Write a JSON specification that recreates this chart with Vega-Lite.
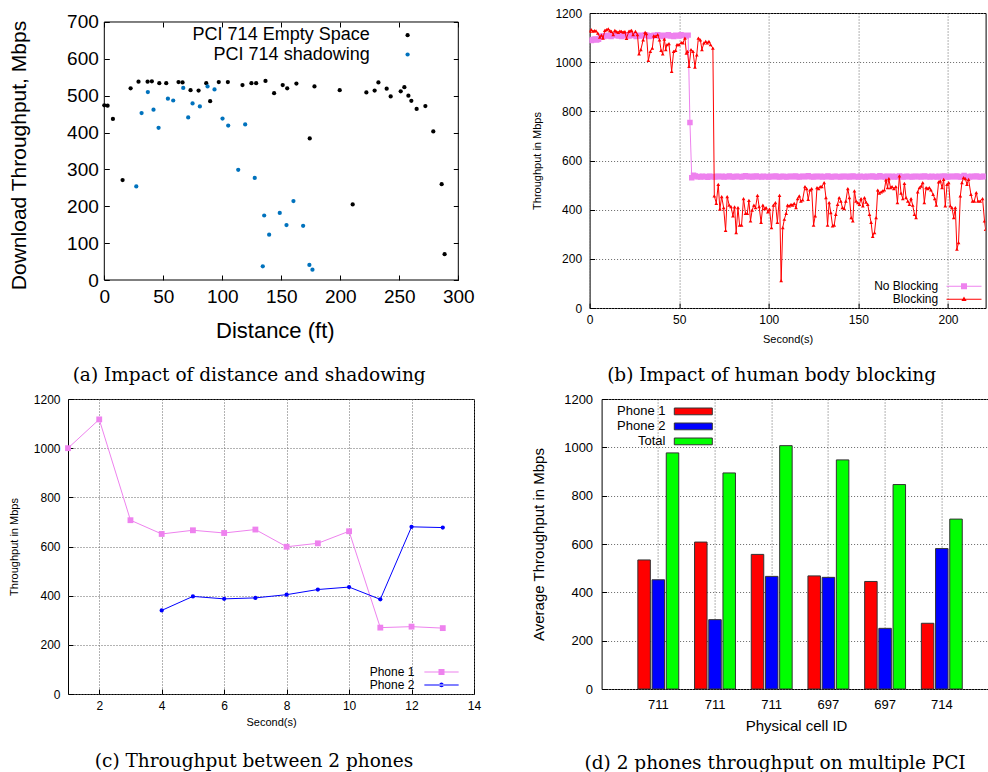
{
"$schema": "https://vega.github.io/schema/vega-lite/v6.json",
"background": "white",
"padding": {"left": 7, "top": 6, "right": 0, "bottom": 0},
"config": {
  "font": "Liberation Sans",
  "view": {"stroke": "black", "strokeWidth": 1},
  "axis": {"domain": false, "labelColor": "black", "titleColor": "black", "tickColor": "black", "titleFontWeight": "normal", "labelFont": "Liberation Sans", "titleFont": "Liberation Sans", "grid": false, "labelOverlap": false, "labelFlush": false, "gridDash": [1, 2], "gridColor": "#666", "gridWidth": 1},
  "legend": {"labelFont": "Liberation Sans", "labelColor": "black", "padding": 0, "rowPadding": 0, "labelLimit": 400, "symbolOpacity": 1}
},
"datasets": {
"a": [
{"d":0,"t":474,"s":"PCI 714 Empty Space"},{"d":2.8,"t":473,"s":"PCI 714 Empty Space"},{"d":7.3,"t":437,"s":"PCI 714 Empty Space"},{"d":15.5,"t":271,"s":"PCI 714 Empty Space"},{"d":22.3,"t":520,"s":"PCI 714 Empty Space"},{"d":29,"t":538,"s":"PCI 714 Empty Space"},{"d":36.7,"t":538,"s":"PCI 714 Empty Space"},{"d":40.3,"t":539,"s":"PCI 714 Empty Space"},{"d":46.6,"t":534,"s":"PCI 714 Empty Space"},{"d":52.5,"t":534,"s":"PCI 714 Empty Space"},{"d":62.9,"t":537,"s":"PCI 714 Empty Space"},{"d":66.3,"t":536,"s":"PCI 714 Empty Space"},{"d":73.1,"t":515,"s":"PCI 714 Empty Space"},{"d":79.9,"t":514,"s":"PCI 714 Empty Space"},{"d":86.4,"t":534,"s":"PCI 714 Empty Space"},{"d":89.7,"t":485,"s":"PCI 714 Empty Space"},{"d":97,"t":537,"s":"PCI 714 Empty Space"},{"d":104.7,"t":537,"s":"PCI 714 Empty Space"},{"d":117.1,"t":529,"s":"PCI 714 Empty Space"},{"d":124.7,"t":534,"s":"PCI 714 Empty Space"},{"d":128.7,"t":534,"s":"PCI 714 Empty Space"},{"d":136.6,"t":540,"s":"PCI 714 Empty Space"},{"d":143.9,"t":507,"s":"PCI 714 Empty Space"},{"d":151.2,"t":529,"s":"PCI 714 Empty Space"},{"d":155,"t":520,"s":"PCI 714 Empty Space"},{"d":162.8,"t":533,"s":"PCI 714 Empty Space"},{"d":174.1,"t":384,"s":"PCI 714 Empty Space"},{"d":178.1,"t":525,"s":"PCI 714 Empty Space"},{"d":199.5,"t":515,"s":"PCI 714 Empty Space"},{"d":210.5,"t":205,"s":"PCI 714 Empty Space"},{"d":222.1,"t":509,"s":"PCI 714 Empty Space"},{"d":229.1,"t":514,"s":"PCI 714 Empty Space"},{"d":232.3,"t":536,"s":"PCI 714 Empty Space"},{"d":239.3,"t":519,"s":"PCI 714 Empty Space"},{"d":242.7,"t":498,"s":"PCI 714 Empty Space"},{"d":251.2,"t":512,"s":"PCI 714 Empty Space"},{"d":254.3,"t":523,"s":"PCI 714 Empty Space"},{"d":257.7,"t":500,"s":"PCI 714 Empty Space"},{"d":260.2,"t":486,"s":"PCI 714 Empty Space"},{"d":264.7,"t":464,"s":"PCI 714 Empty Space"},{"d":272.1,"t":472,"s":"PCI 714 Empty Space"},{"d":278.8,"t":403,"s":"PCI 714 Empty Space"},{"d":285.9,"t":260,"s":"PCI 714 Empty Space"},{"d":288.4,"t":70,"s":"PCI 714 Empty Space"},
{"d":27.1,"t":254,"s":"PCI 714 shadowing"},{"d":31.6,"t":453,"s":"PCI 714 shadowing"},{"d":36.9,"t":510,"s":"PCI 714 shadowing"},{"d":41.7,"t":462,"s":"PCI 714 shadowing"},{"d":46,"t":413,"s":"PCI 714 shadowing"},{"d":53.9,"t":492,"s":"PCI 714 shadowing"},{"d":58.4,"t":487,"s":"PCI 714 shadowing"},{"d":66.9,"t":521,"s":"PCI 714 shadowing"},{"d":71.1,"t":441,"s":"PCI 714 shadowing"},{"d":74.8,"t":479,"s":"PCI 714 shadowing"},{"d":81,"t":471,"s":"PCI 714 shadowing"},{"d":87.5,"t":525,"s":"PCI 714 shadowing"},{"d":93.4,"t":517,"s":"PCI 714 shadowing"},{"d":100.2,"t":438,"s":"PCI 714 shadowing"},{"d":105,"t":419,"s":"PCI 714 shadowing"},{"d":113.5,"t":299,"s":"PCI 714 shadowing"},{"d":119.4,"t":422,"s":"PCI 714 shadowing"},{"d":127.5,"t":277,"s":"PCI 714 shadowing"},{"d":134.3,"t":37,"s":"PCI 714 shadowing"},{"d":135.5,"t":175,"s":"PCI 714 shadowing"},{"d":139.7,"t":123,"s":"PCI 714 shadowing"},{"d":148.7,"t":182,"s":"PCI 714 shadowing"},{"d":154.4,"t":149,"s":"PCI 714 shadowing"},{"d":160.3,"t":214,"s":"PCI 714 shadowing"},{"d":168.5,"t":147,"s":"PCI 714 shadowing"},{"d":173.8,"t":41,"s":"PCI 714 shadowing"},{"d":176.4,"t":28,"s":"PCI 714 shadowing"}
],
"b": [
{"t":0,"v":1090,"s":"N"},{"t":1,"v":1088,"s":"N"},{"t":2,"v":1092,"s":"N"},{"t":3,"v":1094,"s":"N"},{"t":4,"v":1090,"s":"N"},{"t":5,"v":1093,"s":"N"},{"t":6,"v":1102,"s":"N"},{"t":7,"v":1106,"s":"N"},{"t":8,"v":1104,"s":"N"},{"t":9,"v":1108,"s":"N"},{"t":10,"v":1110,"s":"N"},{"t":11,"v":1106,"s":"N"},{"t":12,"v":1104,"s":"N"},{"t":13,"v":1108,"s":"N"},{"t":14,"v":1112,"s":"N"},{"t":15,"v":1110,"s":"N"},{"t":16,"v":1106,"s":"N"},{"t":17,"v":1108,"s":"N"},{"t":18,"v":1104,"s":"N"},{"t":19,"v":1110,"s":"N"},{"t":20,"v":1112,"s":"N"},{"t":21,"v":1108,"s":"N"},{"t":22,"v":1106,"s":"N"},{"t":23,"v":1110,"s":"N"},{"t":24,"v":1108,"s":"N"},{"t":25,"v":1112,"s":"N"},{"t":26,"v":1104,"s":"N"},{"t":27,"v":1108,"s":"N"},{"t":28,"v":1110,"s":"N"},{"t":29,"v":1106,"s":"N"},{"t":30,"v":1108,"s":"N"},{"t":31,"v":1112,"s":"N"},{"t":32,"v":1110,"s":"N"},{"t":33,"v":1104,"s":"N"},{"t":34,"v":1108,"s":"N"},{"t":35,"v":1106,"s":"N"},{"t":36,"v":1110,"s":"N"},{"t":37,"v":1108,"s":"N"},{"t":38,"v":1112,"s":"N"},{"t":39,"v":1106,"s":"N"},{"t":40,"v":1110,"s":"N"},{"t":41,"v":1104,"s":"N"},{"t":42,"v":1108,"s":"N"},{"t":43,"v":1110,"s":"N"},{"t":44,"v":1112,"s":"N"},{"t":45,"v":1106,"s":"N"},{"t":46,"v":1108,"s":"N"},{"t":47,"v":1104,"s":"N"},{"t":48,"v":1110,"s":"N"},{"t":49,"v":1108,"s":"N"},{"t":50,"v":1106,"s":"N"},{"t":51,"v":1112,"s":"N"},{"t":52,"v":1110,"s":"N"},{"t":53,"v":1108,"s":"N"},{"t":54,"v":1106,"s":"N"},{"t":55,"v":1110,"s":"N"},{"t":56,"v":755,"s":"N"},
{"t":57,"v":530,"s":"N"},{"t":58,"v":540,"s":"N"},{"t":59,"v":537,"s":"N"},{"t":60,"v":534,"s":"N"},{"t":61,"v":535,"s":"N"},{"t":62,"v":533,"s":"N"},{"t":63,"v":536,"s":"N"},{"t":64,"v":534,"s":"N"},{"t":65,"v":535,"s":"N"},{"t":66,"v":532,"s":"N"},{"t":67,"v":536,"s":"N"},{"t":68,"v":535,"s":"N"},{"t":69,"v":534,"s":"N"},{"t":70,"v":533,"s":"N"},{"t":71,"v":536,"s":"N"},{"t":72,"v":535,"s":"N"},{"t":73,"v":534,"s":"N"},{"t":74,"v":536,"s":"N"},{"t":75,"v":533,"s":"N"},{"t":76,"v":535,"s":"N"},{"t":77,"v":534,"s":"N"},{"t":78,"v":537,"s":"N"},{"t":79,"v":535,"s":"N"},{"t":80,"v":533,"s":"N"},{"t":81,"v":534,"s":"N"},{"t":82,"v":536,"s":"N"},{"t":83,"v":535,"s":"N"},{"t":84,"v":534,"s":"N"},{"t":85,"v":533,"s":"N"},{"t":86,"v":536,"s":"N"},{"t":87,"v":538,"s":"N"},{"t":88,"v":535,"s":"N"},{"t":89,"v":534,"s":"N"},{"t":90,"v":536,"s":"N"},{"t":91,"v":533,"s":"N"},{"t":92,"v":535,"s":"N"},{"t":93,"v":537,"s":"N"},{"t":94,"v":534,"s":"N"},{"t":95,"v":535,"s":"N"},{"t":96,"v":533,"s":"N"},{"t":97,"v":536,"s":"N"},{"t":98,"v":534,"s":"N"},{"t":99,"v":535,"s":"N"},{"t":100,"v":533,"s":"N"},{"t":101,"v":536,"s":"N"},{"t":102,"v":534,"s":"N"},{"t":103,"v":535,"s":"N"},{"t":104,"v":537,"s":"N"},{"t":105,"v":534,"s":"N"},{"t":106,"v":533,"s":"N"},{"t":107,"v":535,"s":"N"},{"t":108,"v":536,"s":"N"},{"t":109,"v":534,"s":"N"},{"t":110,"v":533,"s":"N"},{"t":111,"v":535,"s":"N"},{"t":112,"v":536,"s":"N"},{"t":113,"v":534,"s":"N"},{"t":114,"v":535,"s":"N"},{"t":115,"v":537,"s":"N"},{"t":116,"v":534,"s":"N"},{"t":117,"v":533,"s":"N"},{"t":118,"v":535,"s":"N"},{"t":119,"v":536,"s":"N"},{"t":120,"v":534,"s":"N"},{"t":121,"v":535,"s":"N"},{"t":122,"v":538,"s":"N"},{"t":123,"v":535,"s":"N"},{"t":124,"v":534,"s":"N"},{"t":125,"v":533,"s":"N"},{"t":126,"v":536,"s":"N"},{"t":127,"v":535,"s":"N"},{"t":128,"v":534,"s":"N"},{"t":129,"v":536,"s":"N"},{"t":130,"v":533,"s":"N"},{"t":131,"v":535,"s":"N"},{"t":132,"v":534,"s":"N"},{"t":133,"v":537,"s":"N"},{"t":134,"v":535,"s":"N"},{"t":135,"v":533,"s":"N"},{"t":136,"v":534,"s":"N"},{"t":137,"v":536,"s":"N"},{"t":138,"v":535,"s":"N"},{"t":139,"v":534,"s":"N"},{"t":140,"v":533,"s":"N"},{"t":141,"v":536,"s":"N"},{"t":142,"v":535,"s":"N"},{"t":143,"v":534,"s":"N"},{"t":144,"v":536,"s":"N"},{"t":145,"v":533,"s":"N"},{"t":146,"v":535,"s":"N"},{"t":147,"v":537,"s":"N"},{"t":148,"v":534,"s":"N"},{"t":149,"v":535,"s":"N"},{"t":150,"v":533,"s":"N"},{"t":151,"v":536,"s":"N"},{"t":152,"v":534,"s":"N"},{"t":153,"v":535,"s":"N"},{"t":154,"v":533,"s":"N"},{"t":155,"v":536,"s":"N"},{"t":156,"v":534,"s":"N"},{"t":157,"v":535,"s":"N"},{"t":158,"v":537,"s":"N"},{"t":159,"v":534,"s":"N"},{"t":160,"v":533,"s":"N"},{"t":161,"v":535,"s":"N"},{"t":162,"v":538,"s":"N"},{"t":163,"v":534,"s":"N"},{"t":164,"v":535,"s":"N"},{"t":165,"v":533,"s":"N"},{"t":166,"v":536,"s":"N"},{"t":167,"v":535,"s":"N"},{"t":168,"v":534,"s":"N"},{"t":169,"v":536,"s":"N"},{"t":170,"v":533,"s":"N"},{"t":171,"v":535,"s":"N"},{"t":172,"v":534,"s":"N"},{"t":173,"v":537,"s":"N"},{"t":174,"v":535,"s":"N"},{"t":175,"v":533,"s":"N"},{"t":176,"v":534,"s":"N"},{"t":177,"v":536,"s":"N"},{"t":178,"v":535,"s":"N"},{"t":179,"v":534,"s":"N"},{"t":180,"v":533,"s":"N"},{"t":181,"v":536,"s":"N"},{"t":182,"v":535,"s":"N"},{"t":183,"v":534,"s":"N"},{"t":184,"v":536,"s":"N"},{"t":185,"v":533,"s":"N"},{"t":186,"v":535,"s":"N"},{"t":187,"v":537,"s":"N"},{"t":188,"v":534,"s":"N"},{"t":189,"v":535,"s":"N"},{"t":190,"v":533,"s":"N"},{"t":191,"v":536,"s":"N"},{"t":192,"v":534,"s":"N"},{"t":193,"v":535,"s":"N"},{"t":194,"v":533,"s":"N"},{"t":195,"v":536,"s":"N"},{"t":196,"v":534,"s":"N"},{"t":197,"v":535,"s":"N"},{"t":198,"v":537,"s":"N"},{"t":199,"v":534,"s":"N"},{"t":200,"v":533,"s":"N"},{"t":201,"v":535,"s":"N"},{"t":202,"v":536,"s":"N"},{"t":203,"v":534,"s":"N"},{"t":204,"v":535,"s":"N"},{"t":205,"v":537,"s":"N"},{"t":206,"v":534,"s":"N"},{"t":207,"v":533,"s":"N"},{"t":208,"v":535,"s":"N"},{"t":209,"v":539,"s":"N"},{"t":210,"v":534,"s":"N"},{"t":211,"v":535,"s":"N"},{"t":212,"v":533,"s":"N"},{"t":213,"v":536,"s":"N"},{"t":214,"v":534,"s":"N"},{"t":215,"v":535,"s":"N"},{"t":216,"v":537,"s":"N"},{"t":217,"v":534,"s":"N"},{"t":218,"v":533,"s":"N"},{"t":219,"v":535,"s":"N"},{"t":220,"v":536,"s":"N"},{"t":221,"v":534,"s":"N"},
{"t":0,"v":1125,"s":"B"},{"t":0.9,"v":1132,"s":"B"},{"t":1.8,"v":1126,"s":"B"},{"t":2.7,"v":1128,"s":"B"},{"t":3.6,"v":1127,"s":"B"},{"t":4.6,"v":1118,"s":"B"},{"t":5.7,"v":1102,"s":"B"},{"t":6.6,"v":1110,"s":"B"},{"t":7.5,"v":1098,"s":"B"},{"t":8.5,"v":1129,"s":"B"},{"t":9.4,"v":1132,"s":"B"},{"t":10.4,"v":1135,"s":"B"},{"t":11.3,"v":1128,"s":"B"},{"t":12.2,"v":1125,"s":"B"},{"t":13.2,"v":1112,"s":"B"},{"t":14.1,"v":1129,"s":"B"},{"t":15.1,"v":1124,"s":"B"},{"t":16,"v":1121,"s":"B"},{"t":16.9,"v":1126,"s":"B"},{"t":17.8,"v":1125,"s":"B"},{"t":18.8,"v":1122,"s":"B"},{"t":19.7,"v":1124,"s":"B"},{"t":20.6,"v":1097,"s":"B"},{"t":21.9,"v":1125,"s":"B"},{"t":22.6,"v":1127,"s":"B"},{"t":23.4,"v":1129,"s":"B"},{"t":24.3,"v":1112,"s":"B"},{"t":25.6,"v":1125,"s":"B"},{"t":26.7,"v":1112,"s":"B"},{"t":27.6,"v":1034,"s":"B"},{"t":28.6,"v":1051,"s":"B"},{"t":29.9,"v":1091,"s":"B"},{"t":31,"v":1121,"s":"B"},{"t":31.7,"v":1116,"s":"B"},{"t":32.8,"v":1007,"s":"B"},{"t":33.9,"v":1044,"s":"B"},{"t":35,"v":1057,"s":"B"},{"t":35.8,"v":1107,"s":"B"},{"t":36.9,"v":1105,"s":"B"},{"t":38,"v":1112,"s":"B"},{"t":39,"v":1091,"s":"B"},{"t":39.9,"v":1048,"s":"B"},{"t":40.8,"v":1034,"s":"B"},{"t":41.7,"v":1094,"s":"B"},{"t":42.5,"v":1051,"s":"B"},{"t":43.2,"v":1071,"s":"B"},{"t":44.3,"v":1075,"s":"B"},{"t":45.8,"v":963,"s":"B"},{"t":46.9,"v":1044,"s":"B"},{"t":48,"v":1048,"s":"B"},{"t":48.8,"v":1071,"s":"B"},{"t":49.9,"v":1071,"s":"B"},{"t":51.2,"v":1080,"s":"B"},{"t":52.1,"v":1078,"s":"B"},{"t":53.2,"v":1098,"s":"B"},{"t":54,"v":1037,"s":"B"},{"t":54.6,"v":1044,"s":"B"},{"t":55.5,"v":983,"s":"B"},{"t":56.6,"v":1051,"s":"B"},{"t":57.7,"v":1044,"s":"B"},{"t":58.8,"v":980,"s":"B"},{"t":59.8,"v":1030,"s":"B"},{"t":60.7,"v":1098,"s":"B"},{"t":61.8,"v":1091,"s":"B"},{"t":62.7,"v":1051,"s":"B"},{"t":63.8,"v":1078,"s":"B"},{"t":64.8,"v":1085,"s":"B"},{"t":65.7,"v":1078,"s":"B"},{"t":66.6,"v":1085,"s":"B"},{"t":67.5,"v":1071,"s":"B"},{"t":68.8,"v":1057,"s":"B"},{"t":69.6,"v":456,"s":"B"},{"t":70.7,"v":426,"s":"B"},{"t":71.8,"v":503,"s":"B"},{"t":72.7,"v":402,"s":"B"},{"t":73.7,"v":453,"s":"B"},{"t":74.8,"v":408,"s":"B"},{"t":75.9,"v":316,"s":"B"},{"t":76.8,"v":453,"s":"B"},{"t":77.9,"v":418,"s":"B"},{"t":78.9,"v":412,"s":"B"},{"t":80,"v":375,"s":"B"},{"t":80.9,"v":411,"s":"B"},{"t":81.8,"v":307,"s":"B"},{"t":82.8,"v":408,"s":"B"},{"t":83.7,"v":337,"s":"B"},{"t":84.8,"v":337,"s":"B"},{"t":85.9,"v":445,"s":"B"},{"t":87,"v":385,"s":"B"},{"t":88,"v":385,"s":"B"},{"t":88.9,"v":438,"s":"B"},{"t":89.8,"v":354,"s":"B"},{"t":90.7,"v":398,"s":"B"},{"t":91.7,"v":418,"s":"B"},{"t":92.6,"v":408,"s":"B"},{"t":93.7,"v":458,"s":"B"},{"t":94.6,"v":412,"s":"B"},{"t":95.7,"v":348,"s":"B"},{"t":96.7,"v":418,"s":"B"},{"t":97.6,"v":404,"s":"B"},{"t":98.5,"v":408,"s":"B"},{"t":99.5,"v":391,"s":"B"},{"t":100.4,"v":402,"s":"B"},{"t":101.5,"v":327,"s":"B"},{"t":102.6,"v":418,"s":"B"},{"t":103.7,"v":429,"s":"B"},{"t":104.8,"v":348,"s":"B"},{"t":106,"v":458,"s":"B"},{"t":106.9,"v":111,"s":"B"},{"t":107.8,"v":327,"s":"B"},{"t":108.7,"v":361,"s":"B"},{"t":109.7,"v":385,"s":"B"},{"t":110.5,"v":418,"s":"B"},{"t":111.5,"v":415,"s":"B"},{"t":112.4,"v":422,"s":"B"},{"t":113.3,"v":418,"s":"B"},{"t":114.2,"v":426,"s":"B"},{"t":115.2,"v":408,"s":"B"},{"t":116.1,"v":445,"s":"B"},{"t":117,"v":456,"s":"B"},{"t":117.9,"v":435,"s":"B"},{"t":118.9,"v":440,"s":"B"},{"t":120.2,"v":494,"s":"B"},{"t":121.1,"v":486,"s":"B"},{"t":122,"v":442,"s":"B"},{"t":123,"v":480,"s":"B"},{"t":123.9,"v":486,"s":"B"},{"t":125,"v":337,"s":"B"},{"t":125.9,"v":375,"s":"B"},{"t":126.9,"v":490,"s":"B"},{"t":127.8,"v":486,"s":"B"},{"t":128.7,"v":494,"s":"B"},{"t":129.6,"v":494,"s":"B"},{"t":130.9,"v":510,"s":"B"},{"t":131.9,"v":449,"s":"B"},{"t":132.8,"v":337,"s":"B"},{"t":133.7,"v":429,"s":"B"},{"t":134.6,"v":388,"s":"B"},{"t":135.6,"v":334,"s":"B"},{"t":136.5,"v":337,"s":"B"},{"t":137.4,"v":381,"s":"B"},{"t":138.4,"v":422,"s":"B"},{"t":139.3,"v":449,"s":"B"},{"t":140.2,"v":435,"s":"B"},{"t":141.1,"v":408,"s":"B"},{"t":142.1,"v":404,"s":"B"},{"t":143,"v":435,"s":"B"},{"t":144.1,"v":486,"s":"B"},{"t":145,"v":449,"s":"B"},{"t":146,"v":368,"s":"B"},{"t":146.9,"v":354,"s":"B"},{"t":147.8,"v":476,"s":"B"},{"t":148.7,"v":435,"s":"B"},{"t":149.7,"v":429,"s":"B"},{"t":150.6,"v":422,"s":"B"},{"t":151.5,"v":445,"s":"B"},{"t":152.5,"v":415,"s":"B"},{"t":153.4,"v":449,"s":"B"},{"t":154.3,"v":431,"s":"B"},{"t":155.2,"v":422,"s":"B"},{"t":156.2,"v":381,"s":"B"},{"t":157.1,"v":348,"s":"B"},{"t":158,"v":291,"s":"B"},{"t":159,"v":307,"s":"B"},{"t":159.9,"v":368,"s":"B"},{"t":160.8,"v":480,"s":"B"},{"t":161.7,"v":467,"s":"B"},{"t":162.7,"v":472,"s":"B"},{"t":163.6,"v":476,"s":"B"},{"t":164.5,"v":480,"s":"B"},{"t":165.4,"v":521,"s":"B"},{"t":166.3,"v":490,"s":"B"},{"t":167,"v":526,"s":"B"},{"t":167.9,"v":490,"s":"B"},{"t":168.8,"v":494,"s":"B"},{"t":169.8,"v":486,"s":"B"},{"t":170.9,"v":494,"s":"B"},{"t":171.8,"v":429,"s":"B"},{"t":172.9,"v":537,"s":"B"},{"t":173.8,"v":467,"s":"B"},{"t":174.8,"v":445,"s":"B"},{"t":175.7,"v":507,"s":"B"},{"t":176.6,"v":449,"s":"B"},{"t":177.6,"v":435,"s":"B"},{"t":178.5,"v":422,"s":"B"},{"t":179.4,"v":445,"s":"B"},{"t":180.3,"v":418,"s":"B"},{"t":181.3,"v":381,"s":"B"},{"t":182.2,"v":368,"s":"B"},{"t":183.1,"v":472,"s":"B"},{"t":184.1,"v":490,"s":"B"},{"t":185,"v":496,"s":"B"},{"t":185.9,"v":510,"s":"B"},{"t":186.8,"v":429,"s":"B"},{"t":187.8,"v":490,"s":"B"},{"t":188.7,"v":486,"s":"B"},{"t":189.6,"v":490,"s":"B"},{"t":190.5,"v":480,"s":"B"},{"t":191.7,"v":462,"s":"B"},{"t":192.6,"v":445,"s":"B"},{"t":193.5,"v":418,"s":"B"},{"t":194.8,"v":513,"s":"B"},{"t":195.7,"v":517,"s":"B"},{"t":196.7,"v":490,"s":"B"},{"t":197.6,"v":523,"s":"B"},{"t":198.5,"v":415,"s":"B"},{"t":199.5,"v":503,"s":"B"},{"t":200.4,"v":510,"s":"B"},{"t":201.3,"v":415,"s":"B"},{"t":202.2,"v":408,"s":"B"},{"t":203.2,"v":368,"s":"B"},{"t":204.1,"v":408,"s":"B"},{"t":205,"v":239,"s":"B"},{"t":205.9,"v":266,"s":"B"},{"t":206.9,"v":456,"s":"B"},{"t":207.8,"v":510,"s":"B"},{"t":208.7,"v":530,"s":"B"},{"t":209.7,"v":526,"s":"B"},{"t":210.6,"v":503,"s":"B"},{"t":211.5,"v":523,"s":"B"},{"t":212.8,"v":462,"s":"B"},{"t":213.7,"v":435,"s":"B"},{"t":214.7,"v":435,"s":"B"},{"t":215.8,"v":469,"s":"B"},{"t":216.7,"v":435,"s":"B"},{"t":218,"v":435,"s":"B"},{"t":219.3,"v":445,"s":"B"},{"t":220.4,"v":354,"s":"B"},{"t":221,"v":320,"s":"B"}
],
"c": [
{"x":1,"v":1000,"s":"Phone 1"},{"x":2,"v":1117,"s":"Phone 1"},{"x":3,"v":707,"s":"Phone 1"},{"x":4,"v":651,"s":"Phone 1"},{"x":5,"v":666,"s":"Phone 1"},{"x":6,"v":655,"s":"Phone 1"},{"x":7,"v":669,"s":"Phone 1"},{"x":8,"v":599,"s":"Phone 1"},{"x":9,"v":613,"s":"Phone 1"},{"x":10,"v":662,"s":"Phone 1"},{"x":11,"v":270,"s":"Phone 1"},{"x":12,"v":274,"s":"Phone 1"},{"x":13,"v":268,"s":"Phone 1"},
{"x":4,"v":340,"s":"Phone 2"},{"x":5,"v":397,"s":"Phone 2"},{"x":6,"v":387,"s":"Phone 2"},{"x":7,"v":391,"s":"Phone 2"},{"x":8,"v":404,"s":"Phone 2"},{"x":9,"v":425,"s":"Phone 2"},{"x":10,"v":435,"s":"Phone 2"},{"x":11,"v":385,"s":"Phone 2"},{"x":12,"v":680,"s":"Phone 2"},{"x":13,"v":677,"s":"Phone 2"}
],
"d": [
{"g":1,"s":"Phone 1","v":534},{"g":1,"s":"Phone 2","v":452},{"g":1,"s":"Total","v":977},
{"g":2,"s":"Phone 1","v":608},{"g":2,"s":"Phone 2","v":287},{"g":2,"s":"Total","v":894},
{"g":3,"s":"Phone 1","v":557},{"g":3,"s":"Phone 2","v":466},{"g":3,"s":"Total","v":1007},
{"g":4,"s":"Phone 1","v":468},{"g":4,"s":"Phone 2","v":462},{"g":4,"s":"Total","v":948},
{"g":5,"s":"Phone 1","v":445},{"g":5,"s":"Phone 2","v":251},{"g":5,"s":"Total","v":846},
{"g":6,"s":"Phone 1","v":272},{"g":6,"s":"Phone 2","v":581},{"g":6,"s":"Total","v":703}
]
},
"columns": 2,
"align": "none",
"bounds": "full",
"spacing": {"row": 7, "column": 32.6},
"resolve": {"scale": {"color": "independent", "shape": "independent"}, "legend": {"color": "independent", "shape": "independent"}},
"concat": [
{
  "width": 390.3, "height": 267,
  "view": {"stroke": null},
  "title": {"text": "(a) Impact of distance and shadowing", "orient": "bottom", "anchor": "middle", "frame": "group", "dx": -14, "offset": 25, "font": "DejaVu Serif", "fontSize": 18.5, "fontWeight": "normal", "color": "black"},
  "data": {"name": "a"},
  "layer": [
    {
      "mark": {"type": "circle", "size": 18, "opacity": 1},
      "encoding": {
        "x": {"field": "d", "type": "quantitative", "scale": {"domain": [-30.76, 300], "nice": false, "zero": false},
              "axis": {"orient": "bottom", "values": [0,50,100,150,200,250,300], "tickSize": -5, "labelPadding": 12, "labelFontSize": 19, "title": "Distance (ft)", "titleFontSize": 22, "titlePadding": 14, "titleX": 206.8}},
        "y": {"field": "t", "type": "quantitative", "scale": {"domain": [0, 724.4], "nice": false},
              "axis": {"orient": "left", "offset": -36.3, "values": [0,100,200,300,400,500,600,700], "tickSize": -5, "labelPadding": 11, "labelFontSize": 19, "title": "Download Throughput, Mbps", "titleFontSize": 21, "titlePadding": 37, "titleY": 142}},
        "color": {"field": "s", "type": "nominal", "scale": {"domain": ["PCI 714 Empty Space", "PCI 714 shadowing"], "range": ["#000000", "#0072BD"]},
                  "legend": {"orient": "none", "legendX": 330.6, "legendY": 13.2, "title": null, "labelFontSize": 18, "labelAlign": "right", "labelOffset": -46.9, "symbolType": "circle", "symbolSize": 18, "symbolStrokeWidth": 0, "rowPadding": 1.3}}
      }
    },
    {
      "data": {"values": [{}]},
      "mark": {"type": "rule", "color": "black", "strokeWidth": 1},
      "encoding": {"x": {"datum": 0, "type": "quantitative", "axis": null}, "x2": {"datum": 300}, "y": {"datum": 700, "type": "quantitative", "axis": null}}
    },
    {
      "data": {"values": [{}]},
      "mark": {"type": "rule", "color": "black", "strokeWidth": 1},
      "encoding": {"x": {"datum": 0, "type": "quantitative", "axis": null}, "x2": {"datum": 300}, "y": {"datum": 0, "type": "quantitative", "axis": null}}
    },
    {
      "data": {"values": [{}]},
      "mark": {"type": "rule", "color": "black", "strokeWidth": 1},
      "encoding": {"x": {"datum": 0, "type": "quantitative", "axis": null}, "y": {"datum": 0, "type": "quantitative", "axis": null}, "y2": {"datum": 700}}
    },
    {
      "data": {"values": [{}]},
      "mark": {"type": "rule", "color": "black", "strokeWidth": 1},
      "encoding": {"x": {"datum": 300, "type": "quantitative", "axis": null}, "y": {"datum": 0, "type": "quantitative", "axis": null}, "y2": {"datum": 700}}
    },
    {
      "mark": {"type": "circle", "opacity": 0},
      "encoding": {
        "x": {"field": "d", "type": "quantitative", "axis": {"orient": "top", "offset": -9, "values": [0,50,100,150,200,250,300], "labels": false, "tickSize": -5, "title": null}},
        "y": {"field": "t", "type": "quantitative", "axis": {"orient": "right", "values": [0,100,200,300,400,500,600,700], "labels": false, "tickSize": -5, "title": " ", "titleFontSize": 10, "titlePadding": 28.7}}
      }
    }
  ],
  "resolve": {"axis": {"x": "independent", "y": "independent"}}
},
{
  "width": 396, "height": 295,
  "title": {"text": "(b) Impact of human body blocking", "orient": "bottom", "anchor": "middle", "frame": "group", "dx": -16, "offset": 22, "font": "DejaVu Serif", "fontSize": 18.5, "fontWeight": "normal", "color": "black"},
  "data": {"name": "b"},
  "encoding": {
    "x": {"field": "t", "type": "quantitative", "scale": {"domain": [0, 221], "nice": false, "zero": false},
          "axis": {"values": [0,50,100,150,200], "grid": true, "tickSize": -5, "labelPadding": 11, "labelFontSize": 12, "title": "Second(s)", "titleFontSize": 11, "titlePadding": 8}},
    "y": {"field": "v", "type": "quantitative", "scale": {"domain": [0, 1200], "nice": false},
          "axis": {"values": [0,200,400,600,800,1000,1200], "format": "d", "grid": true, "tickSize": -5, "labelPadding": 13, "labelFontSize": 12, "title": "Throughput in Mbps", "titleFontSize": 11, "titlePadding": 12}}
  },
  "layer": [
    {"transform": [{"filter": "false"}], "mark": {"type": "point", "filled": true, "opacity": 1},
     "encoding": {
       "color": {"field": "s", "type": "nominal", "scale": {"domain": ["N", "B"], "range": ["#ee82ee", "#ff0000"]},
         "legend": {"orient": "none", "legendX": 367.9, "legendY": 266.7, "title": null, "labelExpr": "datum.value === 'N' ? 'No Blocking' : 'Blocking'", "labelAlign": "right", "labelOffset": -32.3, "labelFontSize": 12, "symbolSize": 161, "symbolStrokeWidth": 0, "fillColor": "white"}},
       "shape": {"field": "s", "type": "nominal", "scale": {"domain": ["N", "B"], "range": ["M-2.758,-0.079H2.758V0.079H-2.758ZM-0.473,-0.473H0.473V0.473H-0.473Z", "M-2.758,-0.079H2.758V0.079H-2.758ZM0,-0.41L0.41,0.27L-0.41,0.27Z"]},
         "legend": {"orient": "none", "legendX": 367.9, "legendY": 266.7, "title": null, "labelExpr": "datum.value === 'N' ? 'No Blocking' : 'Blocking'", "labelAlign": "right", "labelOffset": -32.3, "labelFontSize": 12, "symbolSize": 161, "symbolStrokeWidth": 0, "fillColor": "white"}}
     }},
    {"transform": [{"filter": "datum.s === 'N'"}], "mark": {"type": "line", "strokeWidth": 1, "clip": true},
     "encoding": {"color": {"field": "s", "type": "nominal"}}},
    {"transform": [{"filter": "datum.s === 'N'"}], "mark": {"type": "point", "shape": "square", "filled": true, "size": 30, "opacity": 1, "clip": true},
     "encoding": {"color": {"field": "s", "type": "nominal"}}},
    {"transform": [{"filter": "datum.s === 'B'"}], "mark": {"type": "line", "strokeWidth": 1, "clip": true},
     "encoding": {"color": {"field": "s", "type": "nominal"}}},
    {"transform": [{"filter": "datum.s === 'B'"}], "mark": {"type": "point", "shape": "triangle-up", "filled": true, "size": 14, "opacity": 1, "clip": true},
     "encoding": {"color": {"field": "s", "type": "nominal"}}}
  ]
},
{
  "width": 406, "height": 295,
  "title": {"text": "(c) Throughput between 2 phones", "orient": "bottom", "anchor": "middle", "frame": "group", "dx": -17, "offset": 24, "font": "DejaVu Serif", "fontSize": 18.5, "fontWeight": "normal", "color": "black"},
  "data": {"name": "c"},
  "encoding": {
    "x": {"field": "x", "type": "quantitative", "scale": {"domain": [1, 14], "nice": false, "zero": false},
          "axis": {"values": [2,4,6,8,10,12,14], "grid": true, "tickSize": -5, "labelPadding": 11, "labelFontSize": 12, "title": "Second(s)", "titleFontSize": 11, "titlePadding": 5.5}},
    "y": {"field": "v", "type": "quantitative", "scale": {"domain": [0, 1200], "nice": false},
          "axis": {"values": [0,200,400,600,800,1000,1200], "format": "d", "grid": true, "tickSize": -5, "labelPadding": 13, "labelFontSize": 12, "title": "Throughput in Mbps", "titleFontSize": 11, "titlePadding": 14}}
  },
  "layer": [
    {"transform": [{"filter": "false"}], "mark": {"type": "point", "filled": true, "opacity": 1},
     "encoding": {
       "color": {"field": "s", "type": "nominal", "scale": {"domain": ["Phone 1", "Phone 2"], "range": ["#ee82ee", "#0000ff"]},
         "legend": {"orient": "none", "legendX": 367, "legendY": 266.4, "title": null, "labelAlign": "right", "labelOffset": -33.6, "labelFontSize": 12, "symbolSize": 161, "symbolStrokeWidth": 0}},
       "shape": {"field": "s", "type": "nominal", "scale": {"domain": ["Phone 1", "Phone 2"], "range": ["M-2.703,-0.079H2.703V0.079H-2.703ZM-0.473,-0.473H0.473V0.473H-0.473Z", "M-2.703,-0.079H2.703V0.079H-2.703ZM-0.363,0A0.363,0.363 0 1,0 0.363,0A0.363,0.363 0 1,0 -0.363,0Z"]},
         "legend": {"orient": "none", "legendX": 367, "legendY": 266.4, "title": null, "labelAlign": "right", "labelOffset": -33.6, "labelFontSize": 12, "symbolSize": 161, "symbolStrokeWidth": 0}}
     }},
    {"transform": [{"filter": "datum.s === 'Phone 1'"}], "mark": {"type": "line", "strokeWidth": 1},
     "encoding": {"color": {"field": "s", "type": "nominal"}}},
    {"transform": [{"filter": "datum.s === 'Phone 1'"}], "mark": {"type": "point", "shape": "square", "filled": true, "size": 34, "opacity": 1},
     "encoding": {"color": {"field": "s", "type": "nominal"}}},
    {"transform": [{"filter": "datum.s === 'Phone 2'"}], "mark": {"type": "line", "strokeWidth": 1},
     "encoding": {"color": {"field": "s", "type": "nominal"}}},
    {"transform": [{"filter": "datum.s === 'Phone 2'"}], "mark": {"type": "point", "shape": "circle", "filled": true, "size": 18, "opacity": 1},
     "encoding": {"color": {"field": "s", "type": "nominal"}}}
  ]
},
{
  "width": 389, "height": 290,
  "title": {"text": "(d) 2 phones throughput on multiple PCI", "orient": "bottom", "anchor": "middle", "frame": "group", "dx": -21, "offset": 21, "font": "DejaVu Serif", "fontSize": 18.5, "fontWeight": "normal", "color": "black"},
  "data": {"name": "d"},
  "mark": {"type": "bar", "stroke": "#333", "strokeWidth": 1},
  "encoding": {
    "x": {"field": "g", "type": "ordinal", "scale": {"type": "band", "domain": [1,2,3,4,5,6], "paddingInner": 0, "paddingOuter": 0.4304, "align": 0.581},
          "axis": {"labelExpr": "['711','711','711','697','697','714'][datum.value - 1]", "labelAngle": 0, "grid": true, "tickSize": -5, "labelPadding": 14, "labelFontSize": 13, "title": "Physical cell ID", "titleFontSize": 15, "titlePadding": 7}},
    "xOffset": {"field": "s", "type": "nominal", "scale": {"domain": ["Phone 1", "Phone 2", "Total"], "paddingInner": 0.12, "paddingOuter": 0.556}},
    "y": {"field": "v", "type": "quantitative", "scale": {"domain": [0, 1200], "nice": false},
          "axis": {"values": [0,200,400,600,800,1000,1200], "format": "d", "grid": true, "tickSize": -5, "labelPadding": 14, "labelFontSize": 13, "title": "Average Throughput in Mbps", "titleFontSize": 15, "titlePadding": 16.7}},
    "color": {"field": "s", "type": "nominal", "scale": {"domain": ["Phone 1", "Phone 2", "Total"], "range": ["#ff0000", "#0000ff", "#00ff00"]},
      "legend": {"orient": "none", "legendX": 84.2, "legendY": 4.9, "title": null, "labelAlign": "right", "labelOffset": -35.3, "labelFontSize": 13, "symbolType": "M-2.757,-0.49H2.757V0.49H-2.757Z", "symbolSize": 190, "symbolStrokeColor": "#333", "symbolStrokeWidth": 1, "rowPadding": -1.2}}
  }
}
]
}
